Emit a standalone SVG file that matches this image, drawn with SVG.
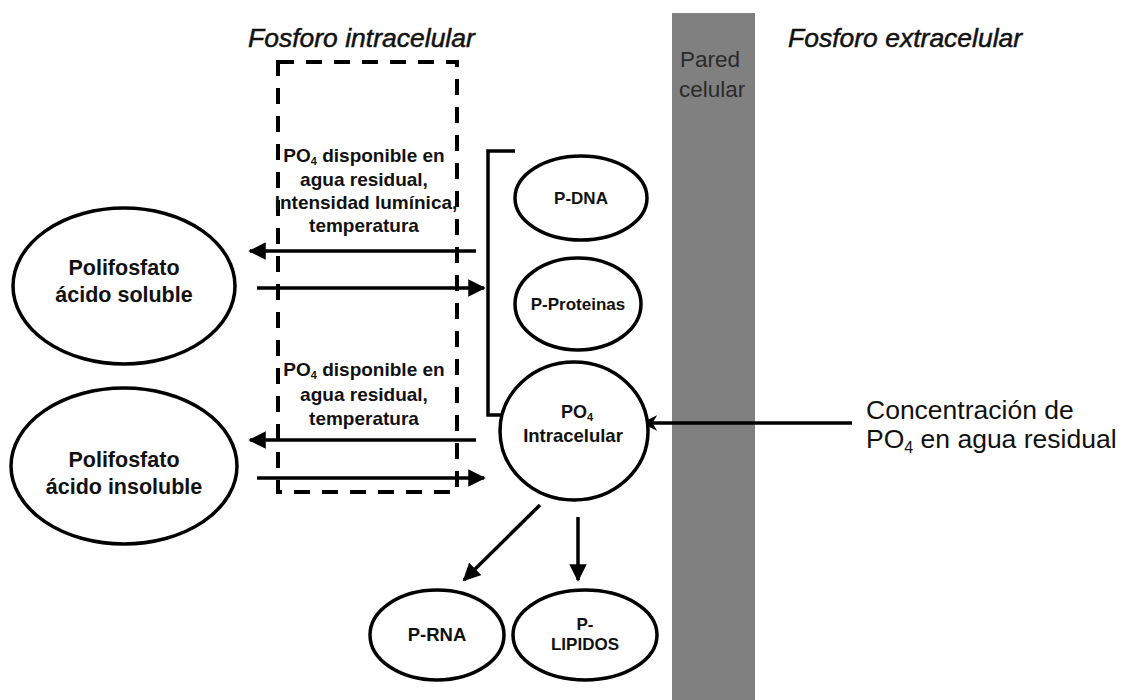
<svg xmlns="http://www.w3.org/2000/svg" width="1126" height="700" viewBox="0 0 1126 700">
<defs>
<style>
.n{fill:#fff;stroke:#000;stroke-width:3.5}
.t{font-family:"Liberation Sans",Arial,sans-serif;font-weight:bold;font-size:21.5px;text-anchor:middle;fill:#111}
.l{font-family:"Liberation Sans",Arial,sans-serif;font-weight:bold;font-size:19px;text-anchor:middle;fill:#111}
.s{font-family:"Liberation Sans",Arial,sans-serif;font-weight:bold;font-size:17px;text-anchor:middle;fill:#111}
.h{font-family:"Liberation Sans",Arial,sans-serif;font-style:italic;font-size:26.5px;fill:#111;stroke:#111;stroke-width:0.5}
.c{stroke:#000;stroke-width:3.5;fill:none}
</style>
<marker id="ah" viewBox="0 0 10 10" refX="9" refY="5" markerWidth="5" markerHeight="5" orient="auto" markerUnits="strokeWidth">
<path d="M0,0 L10,5 L0,10 Z" fill="#000"/>
</marker>
<marker id="ah2" viewBox="0 0 10 10" refX="9" refY="5" markerWidth="4.5" markerHeight="5" orient="auto" markerUnits="strokeWidth">
<path d="M0,0 L10,5 L0,10 L3,5 Z" fill="#000"/>
</marker>
</defs>
<rect width="1126" height="700" fill="#fff"/>
<g id="wall">
<rect x="672" y="13" width="83" height="687" fill="#808080"/>
<text x="680" y="67" style="font-family:'Liberation Sans',Arial,sans-serif;font-size:22.5px;fill:#2a2a2a">Pared</text>
<text x="679" y="97" style="font-family:'Liberation Sans',Arial,sans-serif;font-size:22.5px;fill:#2a2a2a">celular</text>
</g>
<g id="titles">
<text class="h" x="248" y="47">Fosforo intracelular</text>
<text class="h" x="788" y="47">Fosforo extracelular</text>
</g>
<g id="box">
<rect x="278" y="62" width="179" height="430" fill="none" stroke="#000" stroke-width="4" stroke-dasharray="16 12"/>
</g>
<g id="connectors">
<path class="c" d="M515,151 H488 V415 H513"/>
<line class="c" x1="476" y1="251" x2="250" y2="251" marker-end="url(#ah)"/>
<line class="c" x1="257" y1="288" x2="484" y2="288" marker-end="url(#ah)"/>
<line class="c" x1="476" y1="440" x2="250" y2="440" marker-end="url(#ah)"/>
<line class="c" x1="257" y1="478" x2="484" y2="478" marker-end="url(#ah)"/>
<line class="c" x1="852" y1="423" x2="643" y2="423" marker-end="url(#ah2)"/>
<line class="c" x1="540" y1="505" x2="464" y2="580" marker-end="url(#ah)"/>
<line class="c" x1="578" y1="517" x2="578" y2="580" marker-end="url(#ah)"/>
</g>
<g id="label-top">
<text class="l" x="364" y="162">PO<tspan font-size="11" dy="3">4</tspan><tspan dy="-3"> disponible en</tspan></text>
<text class="l" x="364" y="186">agua residual,</text>
<text class="l" x="366" y="209">Intensidad lumínica,</text>
<text class="l" x="364" y="232">temperatura</text>
</g>
<g id="label-bottom">
<text class="l" x="364" y="376">PO<tspan font-size="11" dy="3">4</tspan><tspan dy="-3"> disponible en</tspan></text>
<text class="l" x="364" y="401">agua residual,</text>
<text class="l" x="364" y="425">temperatura</text>
</g>
<g id="soluble">
<ellipse class="n" cx="124" cy="286" rx="111" ry="78"/>
<text class="t" x="124" y="275">Polifosfato</text>
<text class="t" x="124" y="302">ácido soluble</text>
</g>
<g id="insoluble">
<ellipse class="n" cx="124" cy="466" rx="113" ry="78"/>
<text class="t" x="124" y="467">Polifosfato</text>
<text class="t" x="124" y="494">ácido insoluble</text>
</g>
<g id="pdna">
<ellipse class="n" cx="581" cy="198" rx="66" ry="42"/>
<text class="s" x="581" y="204">P-DNA</text>
</g>
<g id="pproteinas">
<ellipse class="n" cx="578" cy="304" rx="63" ry="46"/>
<text class="s" x="578" y="310">P-Proteinas</text>
</g>
<g id="po4">
<ellipse class="n" cx="574" cy="431" rx="74" ry="69"/>
<text class="s" x="577" y="418" style="font-size:18px">PO<tspan font-size="11" dy="3">4</tspan></text>
<text class="s" x="573" y="442" style="font-size:18.5px">Intracelular</text>
</g>
<g id="prna">
<ellipse class="n" cx="437" cy="635" rx="67" ry="45"/>
<text class="s" x="437" y="641" style="font-size:18.5px">P-RNA</text>
</g>
<g id="plipidos">
<ellipse class="n" cx="585" cy="635" rx="72" ry="45"/>
<text class="s" x="585" y="630">P-</text>
<text class="s" x="585" y="650">LIPIDOS</text>
</g>
<g id="concentracion">
<text x="866" y="419" style="font-family:'Liberation Sans',Arial,sans-serif;font-size:26.5px;fill:#111">Concentración de</text>
<text x="866" y="448" style="font-family:'Liberation Sans',Arial,sans-serif;font-size:26.5px;fill:#111">PO<tspan font-size="16" dy="5">4</tspan><tspan dy="-5"> en agua residual</tspan></text>
</g>
</svg>
